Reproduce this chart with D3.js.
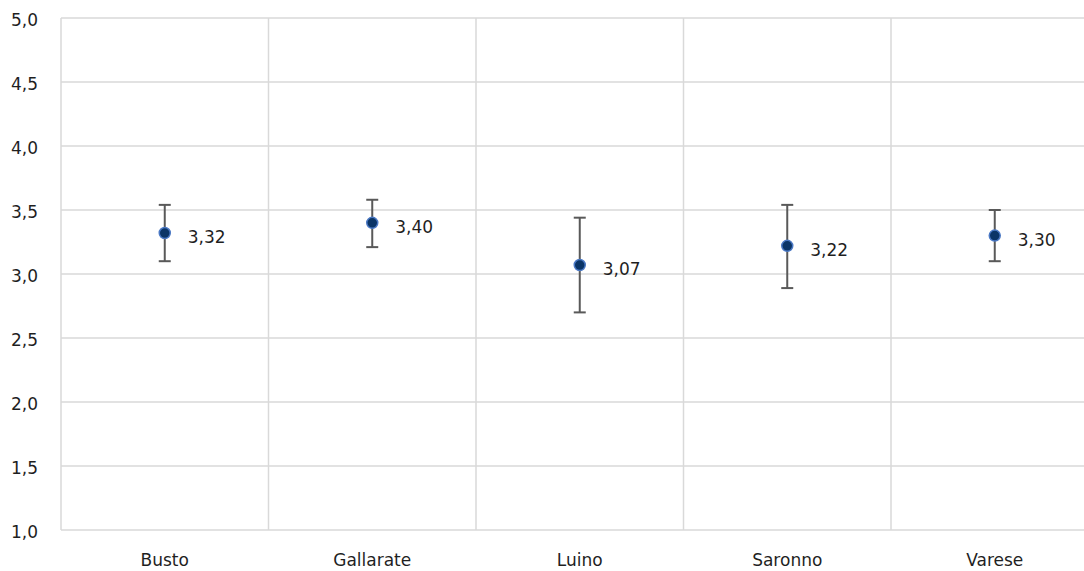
<!DOCTYPE html>
<html>
<head>
<meta charset="utf-8">
<script src="https://cdn.jsdelivr.net/npm/d3@7"></script>
<style>
  html, body { margin: 0; padding: 0; background: #fff; }
  svg { display: block; }
  text { font-family: "DejaVu Sans", sans-serif; fill: #1f1f1f; }
</style>
</head>
<body>
<svg id="chart" width="1084" height="571"></svg>
<script>
const categories = ["Busto", "Gallarate", "Luino", "Saronno", "Varese"];
const means = [3.32, 3.40, 3.07, 3.22, 3.30];
const upper = [3.54, 3.58, 3.44, 3.54, 3.50];
const lower = [3.10, 3.21, 2.70, 2.89, 3.10];
const yTicks = [1.0, 1.5, 2.0, 2.5, 3.0, 3.5, 4.0, 4.5, 5.0];

(function () {
const svg = d3.select("#chart");
const mLeft = 61, mRight = 1098.5, mTop = 18, mBottom = 530;
const FONT = "DejaVu Sans";

const x = d3.scaleBand().domain(categories).range([mLeft, mRight]).paddingInner(0).paddingOuter(0);
const y = d3.scaleLinear().domain([1, 5]).range([mBottom, mTop]);
const fmt = v => d3.format(".1f")(v).replace(".", ",");
const fmt2 = v => d3.format(".2f")(v).replace(".", ",");

const grid = svg.append("g");
grid.selectAll("line.h").data(yTicks).join("line")
  .attr("x1", mLeft).attr("x2", mRight)
  .attr("y1", d => y(d)).attr("y2", d => y(d))
  .attr("stroke", "#d9d9d9").attr("stroke-width", 1.5);
const bounds = categories.map(c => x(c));
grid.selectAll("line.v").data(bounds).join("line")
  .attr("x1", d => d).attr("x2", d => d)
  .attr("y1", mTop).attr("y2", mBottom)
  .attr("stroke", "#d9d9d9").attr("stroke-width", 1.5);

const yAxis = d3.axisLeft(y).tickValues(yTicks).tickFormat(fmt).tickSize(0).tickPadding(23);
const gy = svg.append("g").attr("transform", `translate(${mLeft},0)`).call(yAxis);
gy.select(".domain").remove();
gy.selectAll("text").attr("font-size", 17).attr("font-family", FONT).attr("fill", "#1f1f1f").attr("dy", "0.44em");

const xAxis = d3.axisBottom(x).tickSize(0).tickPadding(24);
const gx = svg.append("g").attr("transform", `translate(0,${mBottom})`).call(xAxis);
gx.select(".domain").remove();
gx.selectAll("text").attr("font-size", 17).attr("font-family", FONT).attr("fill", "#1f1f1f");

const data = categories.map((c, i) => ({c, m: means[i], hi: upper[i], lo: lower[i]}));
const cx = d => x(d.c) + x.bandwidth() / 2;

const eb = svg.append("g").selectAll("g").data(data).join("g");
eb.append("line").attr("x1", cx).attr("x2", cx)
  .attr("y1", d => y(d.hi)).attr("y2", d => y(d.lo))
  .attr("stroke", "#595959").attr("stroke-width", 2);
eb.append("line").attr("x1", d => cx(d) - 6).attr("x2", d => cx(d) + 6)
  .attr("y1", d => y(d.hi)).attr("y2", d => y(d.hi))
  .attr("stroke", "#595959").attr("stroke-width", 2);
eb.append("line").attr("x1", d => cx(d) - 6).attr("x2", d => cx(d) + 6)
  .attr("y1", d => y(d.lo)).attr("y2", d => y(d.lo))
  .attr("stroke", "#595959").attr("stroke-width", 2);

svg.append("g").selectAll("circle").data(data).join("circle")
  .attr("cx", cx).attr("cy", d => y(d.m)).attr("r", 5.5)
  .attr("fill", "#0b3567").attr("stroke", "#4a78c4").attr("stroke-width", 1.5);

svg.append("g").selectAll("text").data(data).join("text")
  .attr("x", d => cx(d) + 23).attr("y", d => y(d.m)).attr("dy", "0.59em")
  .attr("font-size", 17).attr("font-family", FONT).text(d => fmt2(d.m));
})();
</script>
</body>
</html>
